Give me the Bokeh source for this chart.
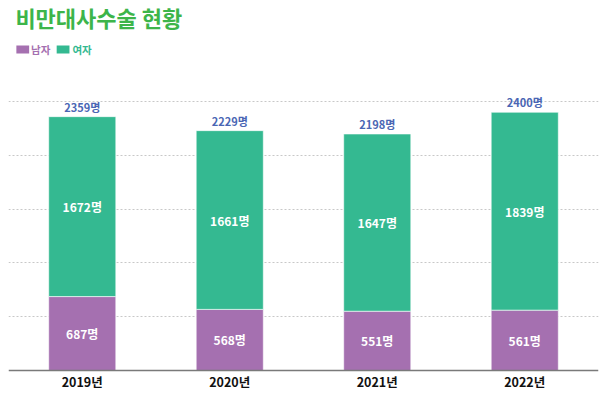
from bokeh.plotting import figure
from bokeh.models import ColumnDataSource, FactorRange, Range1d, FixedTicker, LabelSet, Span
from bokeh.layouts import column
from bokeh.embed import file_html
from bokeh.resources import INLINE
from bokeh.core.properties import value

years = ["2019년", "2020년", "2021년", "2022년"]
male = [687, 568, 551, 561]
female = [1672, 1661, 1647, 1839]
totals = [2359, 2229, 2198, 2400]
series_names = ["남자", "여자"]
series_colors = ["#a570b0", "#34b991"]
title_text = "비만대사수술 현황"

FONT = "Noto Sans CJK KR"

# ---- header (title + legend) ----
hdr = figure(width=600, height=80, x_range=Range1d(0, 600), y_range=Range1d(80, 0),
             output_backend="svg", toolbar_location=None, min_border=0)
hdr.axis.visible = False
hdr.grid.visible = False
hdr.outline_line_color = None
hsrc = ColumnDataSource(dict(x=[7], y=[0], t=[title_text]))
hdr.text(x="x", y="y", text="t", source=hsrc, text_font=value(FONT), text_font_style="bold",
         text_font_size="22px", text_color="#3db54a", text_baseline="top", text_align="left")
sq_x = [14.5, 55.5]
tx_x = [23, 65]
lsrc = ColumnDataSource(dict(x=sq_x, tx=tx_x, y=[49, 49],
                             name=series_names, color=series_colors))
hdr.rect(x="x", y="y", width=13, height=8, source=lsrc, fill_color="color", line_color=None)
hdr.text(x="tx", y="y", text="name", source=lsrc, text_color="color", text_font=value(FONT),
         text_font_style="bold", text_font_size="10.5px", text_baseline="middle", text_align="left")

# ---- main chart ----
src = ColumnDataSource(dict(
    year=years, 남자=male, 여자=female, total=totals,
    zero=[0] * len(years),
    male_mid=[m / 2 for m in male],
    female_mid=[m + f / 2 for m, f in zip(male, female)],
    male_lbl=[f"{m}명" for m in male],
    female_lbl=[f"{f}명" for f in female],
    total_lbl=[f"{t}명" for t in totals],
))

p = figure(width=600, height=316, x_range=FactorRange(*years), y_range=Range1d(-241.6, 2695),
           output_backend="svg", toolbar_location=None,
           min_border_left=8, min_border_right=2, min_border_top=0, min_border_bottom=0)
p.outline_line_color = None
p.x_range.range_padding = 0
p.axis.visible = False
p.xgrid.visible = False
p.ygrid.ticker = FixedTicker(ticks=[500, 1000, 1500, 2000, 2500])
p.ygrid.grid_line_color = "#c8c8c8"
p.ygrid.grid_line_dash = "2 2"
p.ygrid.grid_line_width = 1

p.vbar_stack(series_names, x="year", width=0.455, source=src, color=series_colors,
             line_color="white", line_alpha=0.6, line_width=1)

p.add_layout(Span(location=0, dimension="width", line_color="#7a7a7a", line_width=1.5))

p.add_layout(LabelSet(x="year", y="male_mid", text="male_lbl", source=src, text_color="white",
                      text_font=value(FONT), text_font_style="bold", text_font_size="12px",
                      text_align="center", text_baseline="middle"))
p.add_layout(LabelSet(x="year", y="female_mid", text="female_lbl", source=src, text_color="white",
                      text_font=value(FONT), text_font_style="bold", text_font_size="12px",
                      text_align="center", text_baseline="middle"))
p.add_layout(LabelSet(x="year", y="total", text="total_lbl", source=src, text_color="#4a66b4",
                      text_font=value(FONT), text_font_style="bold", text_font_size="11px",
                      text_align="center", text_baseline="bottom", y_offset=2))
p.add_layout(LabelSet(x="year", y="zero", text="year", source=src, text_color="#111111",
                      text_font=value(FONT), text_font_style="bold", text_font_size="12.5px",
                      text_align="center", text_baseline="middle", y_offset=-11))

layout = column(hdr, p, spacing=0)
open("out.html", "w").write(file_html(layout, INLINE))
